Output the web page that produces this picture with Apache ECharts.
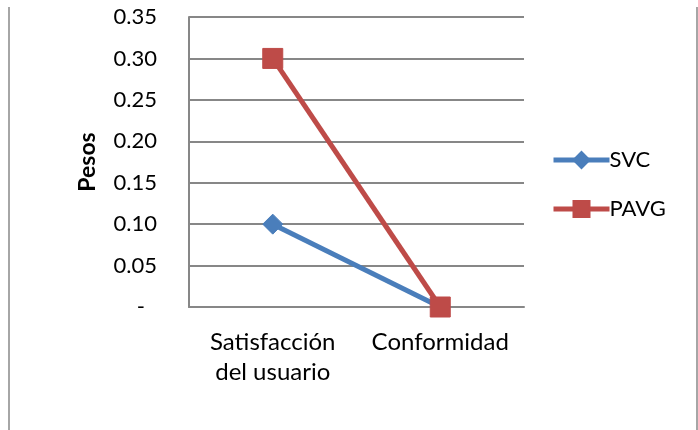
<!DOCTYPE html>
<html>
<head>
<meta charset="utf-8">
<script src="https://cdn.jsdelivr.net/npm/echarts@6/dist/echarts.min.js"></script>
<style>
  html, body { margin: 0; padding: 0; background: #ffffff; }
  #chart { width: 698px; height: 430px; }
</style>
</head>
<body>
<div id="chart"></div>
<script>
// Categories and weights for each method
const categories = ['Satisfacción\ndel usuario', 'Conformidad'];
const svcValues = [0.10, 0.00];
const pavgValues = [0.30, 0.00];
const seriesNames = ['SVC', 'PAVG'];
const yAxisTitle = 'Pesos';

const FONT = 'Lato';
const blue = '#4A7EBB';
const red = '#BE4B48';
const gridGray = '#878787';

const chart = echarts.init(document.getElementById('chart'), null, { renderer: 'canvas' });

chart.setOption({
  backgroundColor: '#ffffff',
  animation: false,
  textStyle: { fontFamily: FONT },
  grid: { left: 189, right: 174, top: 17, bottom: 123, containLabel: false },
  graphic: [
    // outer frame lines at the page edges
    { type: 'line', shape: { x1: 9, y1: 7, x2: 9, y2: 430 }, style: { stroke: '#a6a6a6', lineWidth: 2 } },
    { type: 'line', shape: { x1: 697, y1: 7, x2: 697, y2: 430 }, style: { stroke: '#a6a6a6', lineWidth: 2 } }
  ],
  legend: {
    orient: 'vertical',
    left: 546,
    top: 144,
    itemWidth: 56,
    itemHeight: 20,
    itemGap: 27,
    lineStyle: { width: 5 },
    data: seriesNames,
    textStyle: { fontFamily: FONT, fontSize: 22, color: '#000', padding: [0, 0, 0, -5] }
  },
  xAxis: {
    type: 'category',
    data: categories,
    boundaryGap: true,
    axisLine: { lineStyle: { color: gridGray, width: 2 } },
    axisTick: { show: false },
    axisLabel: { interval: 0, hideOverlap: false, color: '#000', fontSize: 24, fontFamily: FONT, margin: 20, lineHeight: 30, align: 'center' }
  },
  yAxis: {
    type: 'value',
    min: 0,
    max: 0.35,
    interval: 0.05,
    name: yAxisTitle,
    nameLocation: 'middle',
    nameGap: 90,
    nameRotate: 90,
    nameTextStyle: { fontFamily: FONT, fontSize: 23, fontWeight: 'bold', color: '#000' },
    axisLine: { show: true, lineStyle: { color: gridGray, width: 2 } },
    axisTick: { show: false },
    splitLine: { show: true, lineStyle: { color: gridGray, width: 2 } },
    axisLabel: {
      color: '#000',
      fontSize: 22,
      fontFamily: FONT,
      margin: 32,
      formatter: function (v) {
        return Math.abs(v) < 1e-9 ? '{d|-}' : v.toFixed(2);
      },
      rich: { d: { fontSize: 22, fontFamily: FONT, color: '#000', padding: [0, 12, 0, 0] } }
    }
  },
  series: [
    {
      name: seriesNames[0],
      type: 'line',
      data: svcValues,
      color: blue,
      lineStyle: { width: 5, color: blue },
      symbol: 'diamond',
      symbolSize: 20,
      itemStyle: { color: blue, borderColor: blue, borderWidth: 1 }
    },
    {
      name: seriesNames[1],
      type: 'line',
      data: pavgValues,
      color: red,
      lineStyle: { width: 5, color: red },
      symbol: 'rect',
      symbolSize: 20,
      itemStyle: { color: red, borderColor: red, borderWidth: 1 }
    }
  ]
});
</script>
</body>
</html>
